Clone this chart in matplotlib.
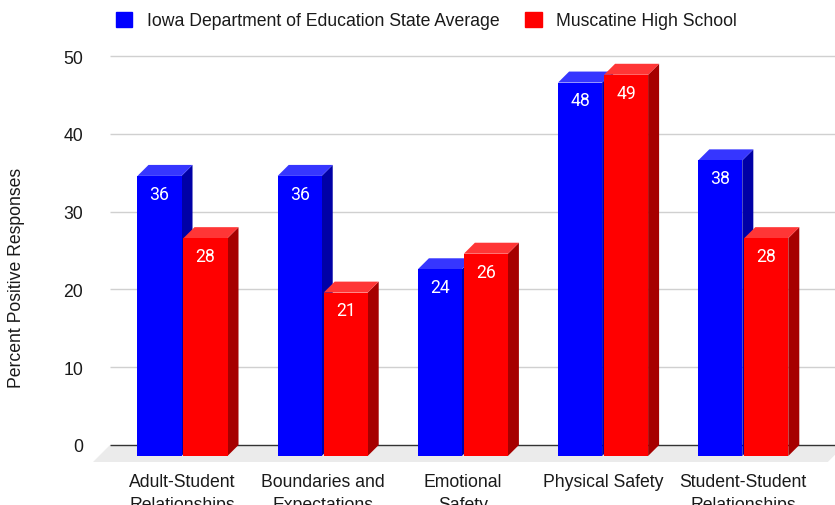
import matplotlib
matplotlib.use("Agg")
import matplotlib.pyplot as plt
from matplotlib.patches import Patch

# Data
categories = ["Adult-Student\nRelationships", "Boundaries and\nExpectations",
              "Emotional\nSafety", "Physical Safety", "Student-Student\nRelationships"]
state_avg = [36, 36, 24, 48, 38]
muscatine = [28, 21, 26, 49, 28]
series_names = ["Iowa Department of Education State Average", "Muscatine High School"]

plt.rcParams['font.family'] = ['Liberation Sans', 'DejaVu Sans']
FS = 12.7

# (front, top, side) colours for the fake 3D bars
blue = ("#0000ff", "#3636ff", "#0000a6")
red = ("#ff0000", "#ff3636", "#a60000")

fig = plt.figure(figsize=(8.35, 5.06), dpi=100)
ax = fig.add_axes([110 / 835, 60 / 506, 725 / 835, 389 / 506])
ax.set_xlim(-0.5956, 4.5756)
ax.set_ylim(0, 50)

# depth of the bars in data units, bar width and gap
dx, dy = 0.0785, 1.41
w, gap = 0.314, 0.007

# floor
fdx, fdy = 0.121, 2.18
x0, x1 = ax.get_xlim()
ax.fill([x0, x1 + 0.07, x1 + 0.07 - fdx, x0 - fdx], [0, 0, -fdy, -fdy],
        color="#ebebeb", lw=0, clip_on=False, zorder=0)

# grid
ax.hlines(range(10, 51, 10), x0, x1 + 0.1, color="#d0d0d0", lw=1, zorder=1, clip_on=False)
ax.hlines(0, x0, x1 + 0.1, color="#333333", lw=1, zorder=1, clip_on=False)


def bar3d(xf, v, cols, z):
    # xf = front-left x, front face spans y -dy .. v-dy
    front, top, side = cols
    ax.fill([xf + w, xf + w + dx, xf + w + dx, xf + w],
            [-dy, 0, v, v - dy], color=side, lw=0, zorder=z, clip_on=False)
    ax.fill([xf, xf + w, xf + w + dx, xf + dx],
            [v - dy, v - dy, v, v], color=top, lw=0, zorder=z, clip_on=False)
    ax.bar(xf, v, width=w, bottom=-dy, align='edge', color=front, lw=0,
           zorder=z, clip_on=False)
    ax.text(xf + w / 2, v - dy - 2.3, str(v), ha='center', va='center',
            color='white', fontsize=FS, family=['Roboto', 'DejaVu Sans'], zorder=z + 0.5)


for i, (a, b) in enumerate(zip(state_avg, muscatine)):
    c = i - dx
    bar3d(c - gap - w, a, blue, 2 + i * 2)
    bar3d(c + gap, b, red, 3 + i * 2)
    ax.text(c, -3.6, categories[i], ha='center', va='top', fontsize=FS,
            color="#1a1a1a", linespacing=1.45, clip_on=False)

ax.set_xticks([])
ax.set_yticks(range(0, 51, 10))
ax.tick_params(axis='y', length=0, pad=19.4, labelsize=FS, labelcolor="#1a1a1a")
for s in ax.spines.values():
    s.set_visible(False)

fig.text(17 / 835, 1 - 277.5 / 506, "Percent Positive Responses", rotation=90,
         ha='center', va='center', fontsize=FS, color="#1a1a1a")

handles = [Patch(color=blue[0]), Patch(color=red[0])]
fig.legend(handles, series_names, loc='center left', bbox_to_anchor=(116 / 835, 1 - 21.5 / 506),
           ncol=2, frameon=False, fontsize=FS, handlelength=0.93, handleheight=0.93,
           handletextpad=0.8, columnspacing=1.48, borderpad=0, borderaxespad=0,
           labelcolor="#1a1a1a")

fig.savefig("out.png", dpi=100)
